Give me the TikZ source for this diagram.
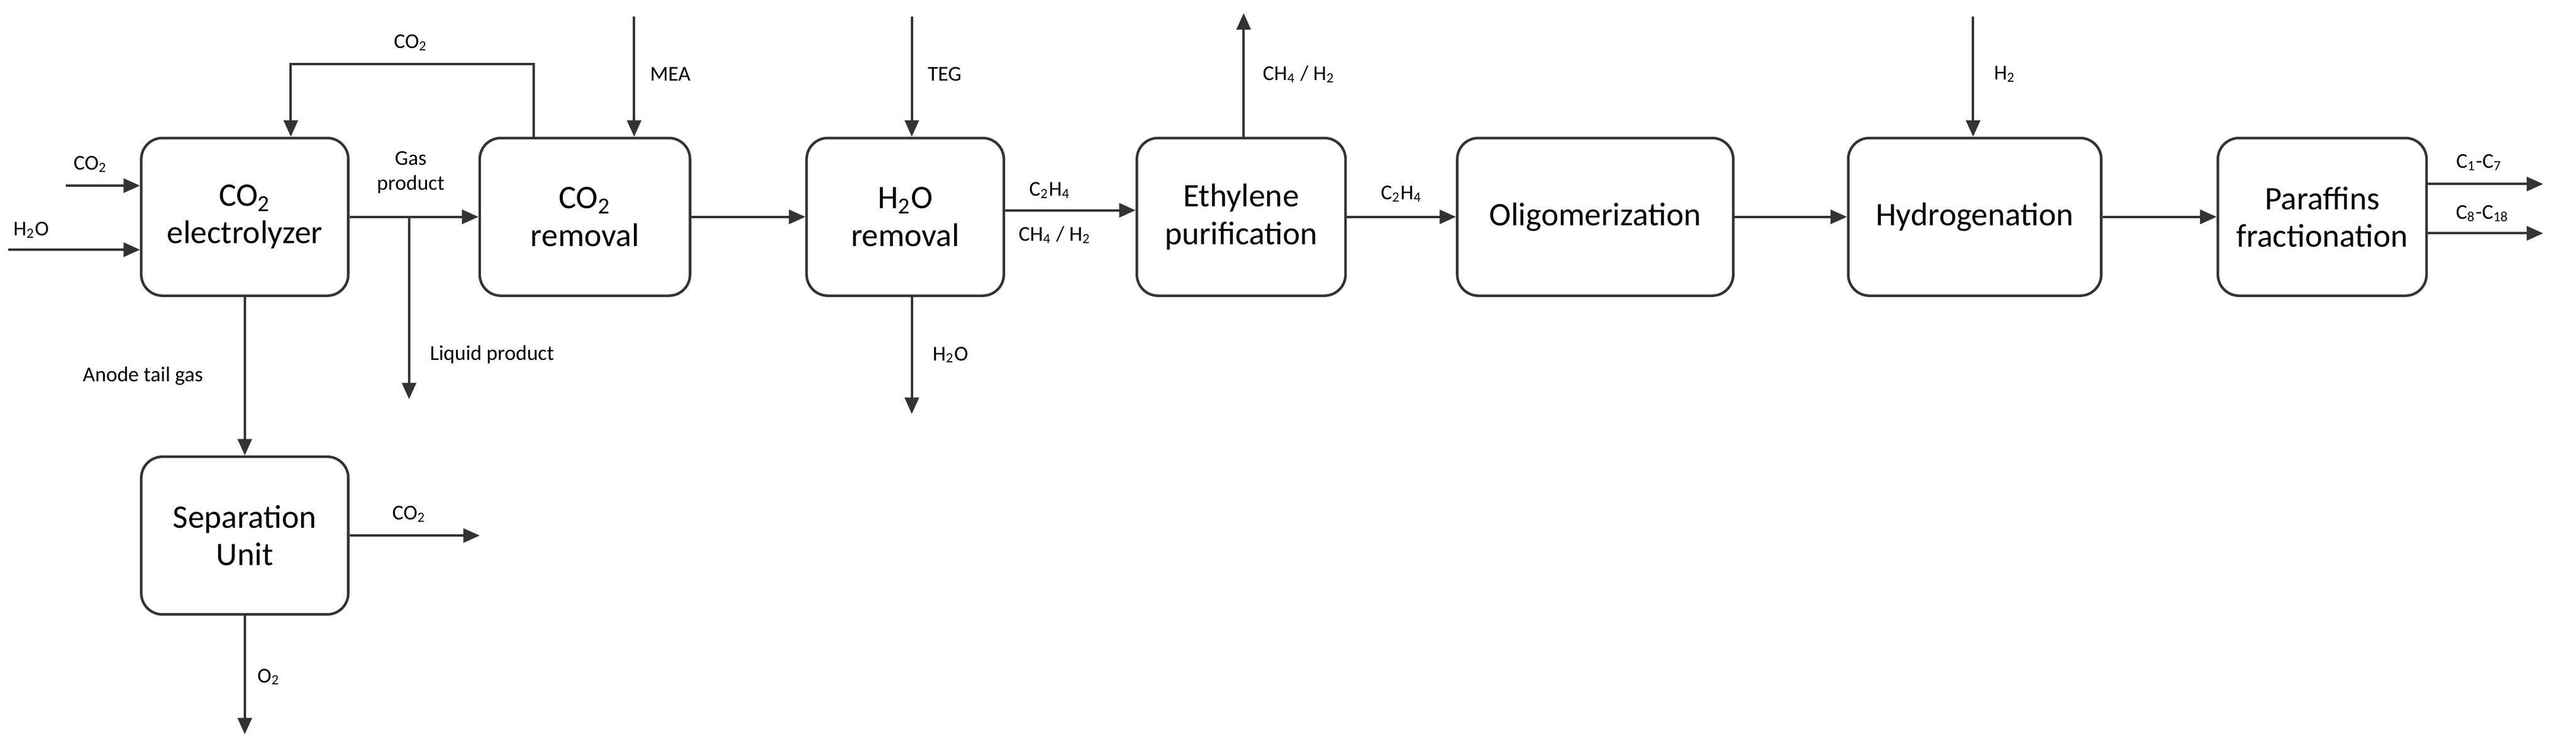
\documentclass[tikz,border=0pt]{standalone}
\usepackage{fontspec}
\setmainfont{Carlito}
\usetikzlibrary{arrows.meta}
\newcommand{\sbs}[1]{\textsubscript{#1}}
\begin{document}
\begin{tikzpicture}[x=0.7pt,y=-0.7pt,
 box/.style={draw=black!80,line width=1.1pt,rounded corners=9pt,align=center,font=\fontsize{14}{16}\selectfont,inner sep=0pt},
 ar/.style={draw=black!80,line width=1pt,-{Triangle[length=7pt,width=6pt]}},
 lb/.style={font=\fontsize{9}{10.5}\selectfont,inner sep=1pt,align=center}]
\useasboundingbox (0,0) rectangle (1568,452);
\node[box,minimum width=88.2pt,minimum height=67.2pt] (el) at (149,132) {CO\sbs{2}\\electrolyzer};
\node[box,minimum width=89.6pt,minimum height=67.2pt] (rm) at (356,132) {CO\sbs{2}\\removal};
\node[box,minimum width=84pt,minimum height=67.2pt] (hr) at (551,132) {H\sbs{2}O\\removal};
\node[box,minimum width=88.9pt,minimum height=67.2pt] (et) at (755.5,132) {Ethylene\\purification};
\node[box,minimum width=117.6pt,minimum height=67.2pt] (ol) at (971,132) {Oligomerization};
\node[box,minimum width=107.8pt,minimum height=67.2pt] (hy) at (1202,132) {Hydrogenation};
\node[box,minimum width=88.9pt,minimum height=67.2pt] (pf) at (1413.5,132) {Paraffins\\fractionation};
\node[box,minimum width=88.2pt,minimum height=67.2pt] (su) at (149,326) {Separation\\Unit};
\coordinate (co2in) at (40,113); \coordinate (h2oin) at (5,152);
\draw[ar] (co2in) -- (co2in -| el.west);
\draw[ar] (h2oin) -- (h2oin -| el.west);
\node[lb] (lco2) at (55,100) {CO\sbs{2}};
\node[lb] (lh2o) at (19,140) {H\sbs{2}O};
\draw[ar] (el.east) -- (rm.west);
\coordinate (br) at (249,132); \coordinate (liq) at (249,243);
\draw[ar] (br) -- (liq);
\node[lb] (lgas) at (250,105) {Gas\\product};
\node[lb,anchor=west] (lliq) at (260,216) {Liquid product};
\coordinate (r1) at (325,39); \coordinate (r2) at (177,39);
\draw[ar] (r1 |- rm.north) -- (r1) -- (r2) -- (r2 |- el.north);
\node[lb] (lrec) at (250,26) {CO\sbs{2}};
\coordinate (mea) at (386,10);
\draw[ar] (mea) -- (mea |- rm.north);
\node[lb,anchor=west] (lmea) at (394,45) {MEA};
\draw[ar] (rm.east) -- (hr.west);
\coordinate (teg) at (555,10);
\draw[ar] (teg) -- (teg |- hr.north);
\node[lb,anchor=west] (lteg) at (563,45) {TEG};
\coordinate (wout) at (555,252);
\draw[ar] (wout |- hr.south) -- (wout);
\node[lb,anchor=west] (lwo) at (566,216) {H\sbs{2}O};
\coordinate (h1) at (611,128);
\draw[ar] (h1) -- (h1 -| et.west);
\node[lb] (lc2a) at (639,116) {C\sbs{2}H\sbs{4}};
\node[lb] (lch4a) at (642,143) {CH\sbs{4} / H\sbs{2}};
\coordinate (ch4) at (757,8);
\draw[ar] (ch4 |- et.north) -- (ch4);
\node[lb,anchor=west] (lch4b) at (767,45) {CH\sbs{4} / H\sbs{2}};
\draw[ar] (et.east) -- (ol.west);
\node[lb] (lc2b) at (853,118) {C\sbs{2}H\sbs{4}};
\draw[ar] (ol.east) -- (hy.west);
\coordinate (h2) at (1201,10);
\draw[ar] (h2) -- (h2 |- hy.north);
\node[lb,anchor=west] (lh2) at (1212,45) {H\sbs{2}};
\draw[ar] (hy.east) -- (pf.west);
\coordinate (o1) at (1548,112); \coordinate (o2) at (1548,142);
\draw[ar] (o1 -| pf.east) -- (o1);
\draw[ar] (o2 -| pf.east) -- (o2);
\node[lb] (lo1) at (1509,99) {C\sbs{1}-C\sbs{7}};
\node[lb] (lo2) at (1511,130) {C\sbs{8}-C\sbs{18}};
\draw[ar] (el.south) -- (su.north);
\node[lb] (lan) at (87,229) {Anode tail gas};
\coordinate (sco2) at (292,326);
\draw[ar] (su.east) -- (sco2);
\node[lb] (lsc) at (249,313) {CO\sbs{2}};
\coordinate (o2o) at (149,447);
\draw[ar] (su.south) -- (o2o);
\node[lb,anchor=west] (lo2o) at (155,412) {O\sbs{2}};
\end{tikzpicture}
\end{document}
